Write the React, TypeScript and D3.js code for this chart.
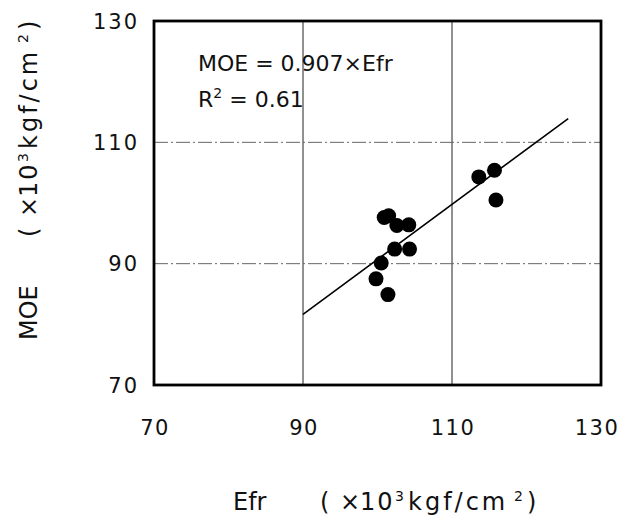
import React from 'react';
import * as d3 from 'd3';

// Efr vs MOE (x10^3 kgf/cm2)
const efr = [113.6, 115.7, 115.9, 100.9, 101.5, 102.6, 104.2, 102.3, 104.3, 100.5, 99.8, 101.4];
const moe = [104.3, 105.4, 100.5, 97.6, 97.9, 96.3, 96.4, 92.4, 92.4, 90.1, 87.5, 84.9];
const slope = 0.907;
const fitRange = [90, 125.6];
const ticks = [70, 90, 110, 130];
const gridTicks = [90, 110];

const W = 622;
const H = 520;
const font = "'DejaVu Sans', sans-serif";

// unit label pieces: [text, offset from "(" along the axis, superscript?, letter spacing]
const unitParts: [string, number, boolean, number][] = [
  ['(', 0, false, 0],
  ['×', 20, false, 0],
  ['10', 40, false, 2],
  ['3', 75, true, 0],
  ['kgf/cm', 88, false, 3],
  ['2', 194, true, 0],
  [')', 207, false, 0],
];

function UnitLabel({ start }: { start: number }) {
  return (
    <>
      {unitParts.map(([t, off, sup, ls], i) => (
        <tspan key={i} x={start + off} y={sup ? -9 : 0} fontSize={sup ? 14 : 24} letterSpacing={ls}>{t}</tspan>
      ))}
    </>
  );
}

export default function App() {
  const x = d3.scaleLinear().domain([70, 130]).range([154, 601]);
  const y = d3.scaleLinear().domain([70, 130]).range([385, 21]);

  const fitLine = d3.line<number>()
    .x(d => x(d))
    .y(d => y(slope * d));

  return (
    <svg width={W} height={H} style={{ position: 'absolute', left: 0, top: 0, background: '#fff' }}>
      {/* grid */}
      {gridTicks.map(t => (
        <line key={'gx' + t} x1={x(t)} x2={x(t)} y1={y(130)} y2={y(70)} stroke="#222" strokeWidth={1} />
      ))}
      {gridTicks.map(t => (
        <line key={'gy' + t} x1={x(70)} x2={x(130)} y1={y(t)} y2={y(t)}
          stroke="#666" strokeWidth={1} strokeDasharray="14,3,2,3" />
      ))}

      {/* frame */}
      <rect x={x(70)} y={y(130)} width={x(130) - x(70)} height={y(70) - y(130)}
        fill="none" stroke="#000" strokeWidth={2.8} />

      {/* regression */}
      <path d={fitLine(fitRange) || ''} fill="none" stroke="#000" strokeWidth={1.6} />

      {/* points */}
      {efr.map((v, i) => (
        <circle key={i} cx={x(v)} cy={y(moe[i])} r={7.5} fill="#000" />
      ))}

      {/* tick labels */}
      {ticks.map(t => (
        <text key={'tx' + t} x={Math.min(x(t) + 1, 597)} y={435} textAnchor="middle" fontFamily={font}
          fontSize={21} letterSpacing={1.5} fill="#111">{t}</text>
      ))}
      {ticks.map(t => (
        <text key={'ty' + t} x={139} y={y(t) + 7.5} textAnchor="end" fontFamily={font}
          fontSize={21} letterSpacing={2} fill="#111">{t}</text>
      ))}

      {/* equation */}
      <text x={198} y={71} fontFamily={font} fontSize={22} fill="#111">MOE = 0.907×Efr</text>
      <text x={198} y={107} fontFamily={font} fontSize={22} fill="#111">
        R<tspan dy={-9} fontSize={14}>2</tspan><tspan dy={9}> = 0.61</tspan>
      </text>

      {/* axis titles */}
      <text transform="translate(0,510)" fontFamily={font} fontSize={24} fill="#111">
        <tspan x={233} y={0}>Efr</tspan>
        <UnitLabel start={320} />
      </text>
      <text transform="translate(37,0) rotate(-90)" fontFamily={font} fontSize={24} fill="#111">
        <tspan x={-340} y={0}>MOE</tspan>
        <UnitLabel start={-237} />
      </text>
    </svg>
  );
}
